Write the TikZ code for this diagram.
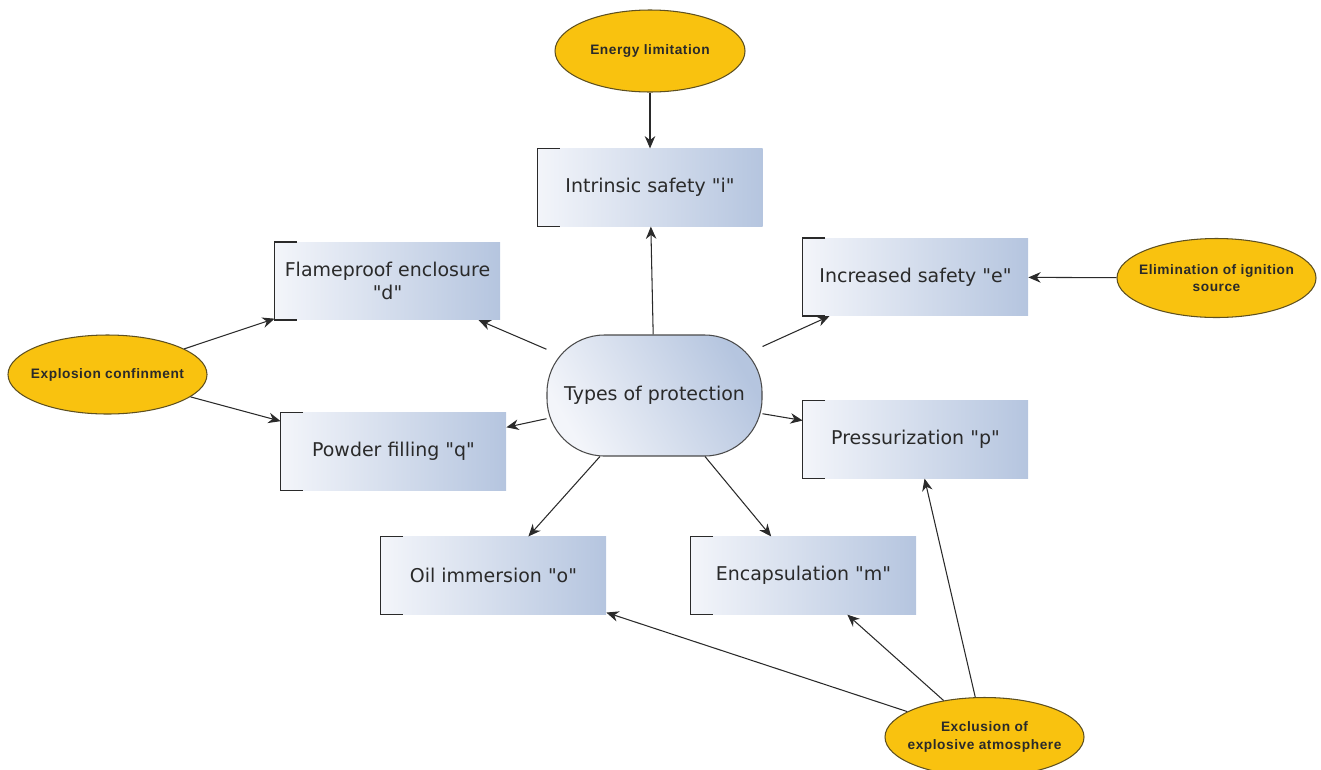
\documentclass[tikz,border=0pt]{standalone}
\usepackage{fontspec}
\setmainfont[Ligatures=TeXOff]{DejaVu Sans}
\newfontfamily\ellfont[LetterSpace=4]{Liberation Sans}
\usetikzlibrary{shapes.geometric,arrows.meta}
\definecolor{boxleft}{HTML}{F3F5FA}
\definecolor{boxright}{HTML}{B5C5DF}
\definecolor{gold}{HTML}{F9C20F}
\definecolor{goldline}{HTML}{5E5020}
\definecolor{ink}{HTML}{2A2A2A}
\begin{document}
\begin{tikzpicture}
  \tikzstyle{prot}=[rectangle, minimum width=4.5cm, minimum height=1.55cm, inner sep=2pt, align=center, left color=boxleft, right color=boxright, text=ink, font=\fontsize{10.8}{13}\selectfont]
  \tikzstyle{hub}=[prot, draw=ink!85, line width=0.6pt, minimum width=4.3cm, minimum height=2.42cm, rounded corners=1.15cm, shading angle=120]
  \tikzstyle{cause}=[ellipse, draw=goldline, fill=gold, line width=0.6pt, inner xsep=-7pt, inner ysep=0pt, minimum width=3.98cm, minimum height=1.58cm, align=center, text=ink, font=\ellfont\bfseries\fontsize{7.8}{10}\selectfont]
  \tikzstyle{arrow}=[-{Stealth[length=7pt,width=6pt]}, draw=ink, line width=0.6pt]
  \tikzstyle{bracket}=[draw=ink, line width=0.7pt]

  \useasboundingbox (0,0) rectangle (26.42,-15.38);

  \node[hub] (types) at (13.09,-7.91) {Types of protection};

  \node[prot] (intr)   at (13.0,  -3.75)  {Intrinsic safety "i"};
  \node[prot] (flame)  at (7.75,  -5.62)  {Flameproof enclosure\\"d"};
  \node[prot] (incr)   at (18.31, -5.54)  {Increased safety "e"};
  \node[prot] (powder) at (7.87,  -9.03)  {Powder filling "q"};
  \node[prot] (press)  at (18.31, -8.79)  {Pressurization "p"};
  \node[prot] (oil)    at (9.87,  -11.51) {Oil immersion "o"};
  \node[prot] (encap)  at (16.07, -11.51) {Encapsulation "m"};

  \node[cause, minimum width=3.8cm, minimum height=1.64cm] (energy) at (13.0, -1.02) {Energy limitation};
  \node[cause] (confine) at (2.15,  -7.49)  {Explosion confinment};
  \node[cause] (elim)    at (24.33, -5.56)  {Elimination of ignition\\source};
  \node[cause] (excl)    at (19.69, -14.74) {Exclusion of\\explosive atmosphere};

  % left brackets of the boxes
  \foreach \n in {intr,flame,incr,powder,press,oil,encap}
    \draw[bracket] ([xshift=0.45cm]\n.north west) -- (\n.north west) -- (\n.south west) -- ([xshift=0.45cm]\n.south west);

  \path (energy) edge[arrow] (intr);
  \path (types) edge[arrow] (intr);
  \path (types) edge[arrow] (flame);
  \path (types) edge[arrow] (incr);
  \path (types) edge[arrow] (powder);
  \path (types) edge[arrow] (press);
  \path (types) edge[arrow] (oil);
  \path (types) edge[arrow] (encap);
  \path (confine) edge[arrow] (flame);
  \path (confine) edge[arrow] (powder);
  \path (elim) edge[arrow] (incr);
  \path (excl) edge[arrow] (oil);
  \path (excl) edge[arrow] (encap);
  \path (excl) edge[arrow] (press);
\end{tikzpicture}
\end{document}
